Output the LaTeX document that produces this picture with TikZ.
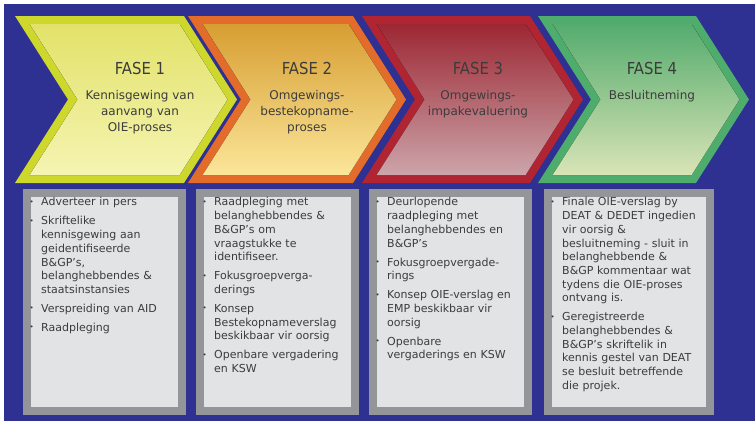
\documentclass[tikz,border=0pt]{standalone}
\usepackage{fontspec}
\setmainfont{DejaVu Sans}
\newfontfamily\titlefont{DejaVu Sans Condensed}
\usepackage{enumitem}
\usepackage{tikz}
\usetikzlibrary{positioning}
\definecolor{bgblue}{HTML}{2E3092}
\definecolor{rimA}{HTML}{CDD72C}
\definecolor{topA}{HTML}{E2E26A}
\definecolor{botA}{HTML}{F5F4B2}
\definecolor{rimB}{HTML}{E46C2A}
\definecolor{topB}{HTML}{D79E33}
\definecolor{botB}{HTML}{FBE699}
\definecolor{rimC}{HTML}{B12533}
\definecolor{topC}{HTML}{9C2733}
\definecolor{botC}{HTML}{CCA5AA}
\definecolor{rimD}{HTML}{4EAC6D}
\definecolor{topD}{HTML}{55AC6E}
\definecolor{botD}{HTML}{D9E4B6}
\definecolor{boxrim}{HTML}{939598}
\definecolor{boxfill}{HTML}{E2E3E5}
\definecolor{inkgray}{HTML}{3C3C3C}
\setlist[itemize]{leftmargin=14pt, labelsep=7.5pt, itemsep=5.3pt, parsep=0pt,
  topsep=0pt, partopsep=0pt, label={\raisebox{1.7pt}{\fontsize{7}{7}\selectfont\textbullet}}}

\begin{document}
\begin{tikzpicture}[
        x=1pt, y=-1pt,
        phase/.style={
            text=inkgray,
            inner sep=0pt,
            font=\titlefont\fontsize{16.5}{18}\selectfont
        },
        sub/.style={
            text=inkgray,
            inner sep=0pt,
            align=center,
            font=\fontsize{12}{16}\selectfont
        },
        panel/.style={
            draw=boxrim,
            fill=boxfill,
            line width=8pt,
            inner sep=0pt,
            anchor=north west,
            minimum height=218pt
        },
        items/.style={
            text=inkgray,
            inner sep=0pt,
            align=left,
            text width=150pt,
            font=\fontsize{11}{13.7}\selectfont
        }
    ]
        \useasboundingbox (0,0) rectangle (755,423);
        \fill[white] (0,0) rectangle (755,423);
        \fill[bgblue] (4,4) rectangle (755,421);

        % Chevrons
        \foreach \xa/\xb/\rim/\ctop/\cbot in {15/184/rimA/topA/botA, 188/353/rimB/topB/botB,
                                              362/530/rimC/topC/botC, 538/696/rimD/topD/botD}{
            \fill[\rim] (\xa,16) -- (\xb,16) -- (\xb+53,99.5) -- (\xb,183)
                -- (\xa,183) -- (\xa+53,99.5) -- cycle;
            \fill[top color=\ctop, bottom color=\cbot] (\xa+14.6,24) -- (\xb-4.4,24)
                -- (\xb+43.5,99.5) -- (\xb-4.4,175) -- (\xa+14.6,175) -- (\xa+62.5,99.5) -- cycle;
        }

        % Phase titles
        \node[phase] (f1) at (140,68) {FASE 1};
        \node[phase] (f2) at (307,68) {FASE 2};
        \node[phase] (f3) at (478,68) {FASE 3};
        \node[phase] (f4) at (652,68) {FASE 4};

        \node[sub, below=16pt of f1] (s1) {Kennisgewing van\\aanvang van\\OIE-proses};
        \node[sub, below=16pt of f2] (s2) {Omgewings-\\bestekopname-\\proses};
        \node[sub, below=16pt of f3] (s3) {Omgewings-\\impakevaluering};
        \node[sub, below=16pt of f4] (s4) {Besluitneming};

        % Activity panels
        \node[panel, minimum width=155pt] (b1) at (23,189) {};
        \node[panel, minimum width=155pt] (b2) at (196,189) {};
        \node[panel, minimum width=155pt] (b3) at (369,189) {};
        \node[panel, minimum width=162pt] (b4) at (544,189) {};

        \node[items, below right=3pt and 4pt of b1.north west] (l1) {%
            \begin{itemize}
            \item Adverteer in pers
            \item Skriftelike\\kennisgewing aan\\geidentifiseerde\\B\&GP's,\\belanghebbendes \&\\staatsinstansies
            \item Verspreiding van AID
            \item Raadpleging
            \end{itemize}};
        \node[items, below right=3pt and 4pt of b2.north west] (l2) {%
            \begin{itemize}
            \item Raadpleging met\\belanghebbendes \&\\B\&GP's om\\vraagstukke te\\identifiseer.
            \item Fokusgroepverga-\\derings
            \item Konsep\\Bestekopnameverslag\\beskikbaar vir oorsig
            \item Openbare vergadering\\en KSW
            \end{itemize}};
        \node[items, below right=3pt and 4pt of b3.north west] (l3) {%
            \begin{itemize}
            \item Deurlopende\\raadpleging met\\belanghebbendes en\\B\&GP's
            \item Fokusgroepvergade-\\rings
            \item Konsep OIE-verslag en\\EMP beskikbaar vir\\oorsig
            \item Openbare\\vergaderings en KSW
            \end{itemize}};
        \node[items, below right=3pt and 4pt of b4.north west] (l4) {%
            \begin{itemize}
            \item Finale OIE-verslag by\\DEAT \& DEDET ingedien\\vir oorsig \&\\besluitneming - sluit in\\belanghebbende \&\\B\&GP kommentaar wat\\tydens die OIE-proses\\ontvang is.
            \item Geregistreerde\\belanghebbendes \&\\B\&GP's skriftelik in\\kennis gestel van DEAT\\se besluit betreffende\\die projek.
            \end{itemize}};
    \end{tikzpicture}
\end{document}
